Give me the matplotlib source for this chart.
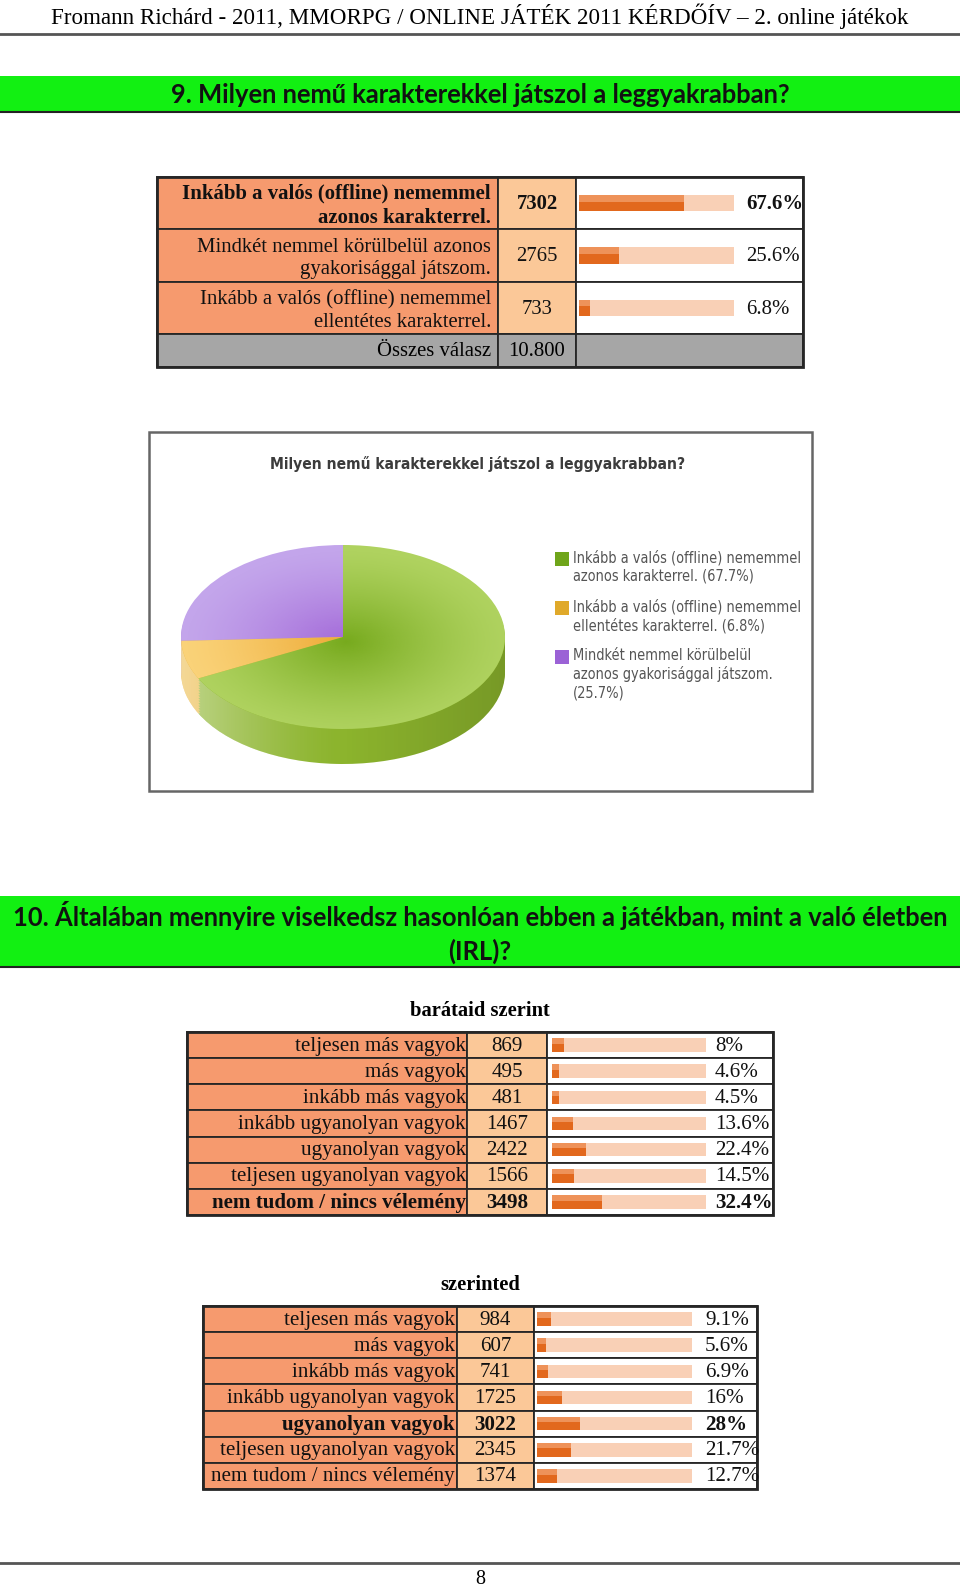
import matplotlib.pyplot as plt
import numpy as np
from matplotlib import font_manager as fm
from matplotlib.patches import Rectangle
from matplotlib.path import Path
from matplotlib.colors import to_rgb

W, H = 960, 1588

# ---- data ----
header_text = "Fromann Richárd - 2011, MMORPG / ONLINE JÁTÉK 2011 KÉRDŐÍV – 2. online játékok"
q9_title = "9. Milyen nemű karakterekkel játszol a leggyakrabban?"
q9_labels = ["Inkább a valós (offline) nememmel\nazonos karakterrel.",
             "Mindkét nemmel körülbelül azonos\ngyakorisággal játszom.",
             "Inkább a valós (offline) nememmel\nellentétes karakterrel."]
q9_counts = [7302, 2765, 733]
q9_pct = [67.6, 25.6, 6.8]
q9_total_label = "Összes válasz"
q9_total = "10.800"

pie_title = "Milyen nemű karakterekkel játszol a leggyakrabban?"
pie_labels = ["Inkább a valós (offline) nememmel\nazonos karakterrel. (67.7%)",
              "Inkább a valós (offline) nememmel\nellentétes karakterrel. (6.8%)",
              "Mindkét nemmel körülbelül\nazonos gyakorisággal játszom.\n(25.7%)"]
pie_pct = [67.7, 6.8, 25.7]

q10_title = "10. Általában mennyire viselkedsz hasonlóan ebben a játékban, mint a való életben\n(IRL)?"
q10_labels = ["teljesen más vagyok", "más vagyok", "inkább más vagyok",
              "inkább ugyanolyan vagyok", "ugyanolyan vagyok",
              "teljesen ugyanolyan vagyok", "nem tudom / nincs vélemény"]
friends_title = "barátaid szerint"
friends_counts = [869, 495, 481, 1467, 2422, 1566, 3498]
friends_pct = [8, 4.6, 4.5, 13.6, 22.4, 14.5, 32.4]
self_title = "szerinted"
self_counts = [984, 607, 741, 1725, 3022, 2345, 1374]
self_pct = [9.1, 5.6, 6.9, 16, 28, 21.7, 12.7]
page_no = "8"


def pick_narrow():
    # a condensed sans face if one is installed, else Roboto
    for fam, st in [("DejaVu Sans", "condensed"), ("Liberation Sans Narrow", "normal")]:
        try:
            f = fm.findfont(fm.FontProperties(family=fam, stretch=st), fallback_to_default=False)
            if "ondensed" in f or "Narrow" in f:
                return fam, st
        except Exception:
            pass
    return "Roboto", "normal"


# ---- styles ----
SERIF = "Liberation Serif"
SANS_B = "Lato"
NARROW, NARROW_ST = pick_narrow()
GREEN_BAND = "#12F012"
LABEL_BG = "#F69A6E"
COUNT_BG = "#FBC898"
GRAY_BG = "#A6A6A6"
TRACK = "#F9D0B6"
BAR_DARK = "#E2681D"
BAR_LIGHT = "#EE9259"
EDGE = "#262626"
PX = 0.72  # px -> pt at dpi 100

fig = plt.figure(figsize=(W / 100, H / 100), dpi=100)
fig.patch.set_facecolor("white")
ax = fig.add_axes([0, 0, 1, 1])
ax.set_xlim(0, W)
ax.set_ylim(H, 0)
ax.axis("off")


def inset(x0, y0, x1, y1):
    return fig.add_axes([x0 / W, 1 - y1 / H, (x1 - x0) / W, (y1 - y0) / H])


# ---- page header ----
ax.text(480, 16, header_text, ha="center", va="center", family=SERIF, fontsize=23 * PX)
ax.plot([0, W], [34, 34], color="#555555", lw=2)
ax.plot([0, W], [1563, 1563], color="#555555", lw=2)
ax.text(480, 1579, page_no, ha="center", va="center", family=SERIF, fontsize=20 * PX)


def green_band(y0, y1, text):
    ax.add_patch(Rectangle((0, y0), W, y1 - y0, facecolor=GREEN_BAND, edgecolor="none"))
    ax.plot([0, W], [y1, y1], color="#222222", lw=1.5)
    ax.text(480, (y0 + y1) / 2 + 1, text, ha="center", va="center", family=SANS_B,
            weight="bold", fontsize=25.5 * PX, linespacing=1.4, color="#111111")


green_band(76, 112, q9_title)
green_band(896, 967, q10_title)


def draw_table(labels, counts, pcts, xe, ye, track, pct_x, bold_rows, bar_frac, fs,
               pad=2, linespacing=1.15, dy=1):
    n = len(labels)
    for i in range(n):
        y0, y1 = ye[i], ye[i + 1]
        yc = (y0 + y1) / 2
        ax.add_patch(Rectangle((xe[0], y0), xe[1] - xe[0], y1 - y0, facecolor=LABEL_BG,
                               edgecolor=EDGE, lw=1.3))
        ax.add_patch(Rectangle((xe[1], y0), xe[2] - xe[1], y1 - y0, facecolor=COUNT_BG,
                               edgecolor=EDGE, lw=1.3))
        ax.add_patch(Rectangle((xe[2], y0), xe[3] - xe[2], y1 - y0, facecolor="white",
                               edgecolor=EDGE, lw=1.3))
        wt = "bold" if i in bold_rows else "normal"
        ax.text(xe[1] - pad, yc + dy, labels[i], ha="right", va="center", family=SERIF,
                fontsize=fs, weight=wt, linespacing=linespacing, color="#111111")
        ax.text((xe[1] + xe[2]) / 2, yc + 1, str(counts[i]), ha="center", va="center",
                family=SERIF, fontsize=fs, weight=wt, color="#111111")
        ax.text(pct_x, yc + 1, f"{pcts[i]:g}%", ha="left", va="center", family=SERIF,
                fontsize=fs, weight=wt, color="#111111")
    # bars through their own axes, 0..100 %
    bx = inset(track[0], ye[0], track[1], ye[n])
    rows = np.arange(n)
    bx.barh(rows, 100, height=bar_frac, color=TRACK, lw=0)
    bx.barh(rows, pcts, height=bar_frac, color=BAR_DARK, lw=0)
    bx.barh(rows - bar_frac * 0.3, pcts, height=bar_frac * 0.4, color=BAR_LIGHT, lw=0)
    bx.set_xlim(0, 100)
    bx.set_ylim(n - 0.5, -0.5)
    bx.axis("off")


# ---- table Q9 ----
t1_x = [157, 498, 576, 803]
t1_y = [177, 229, 282, 334]
draw_table(q9_labels, q9_counts, q9_pct, t1_x, t1_y, (579, 734), 746, [0], 0.31, 20.8 * PX,
           pad=7, linespacing=1.28, dy=3)
for a, b in [(0, 1), (1, 2), (2, 3)]:
    ax.add_patch(Rectangle((t1_x[a], 334), t1_x[b] - t1_x[a], 33, facecolor=GRAY_BG,
                           edgecolor=EDGE, lw=1.3))
ax.text(t1_x[1] - 7, 351, q9_total_label, ha="right", va="center", family=SERIF, fontsize=20.8 * PX)
ax.text((t1_x[1] + t1_x[2]) / 2, 351, q9_total, ha="center", va="center", family=SERIF, fontsize=20.8 * PX)
ax.add_patch(Rectangle((t1_x[0], 177), t1_x[3] - t1_x[0], 190, facecolor="none", edgecolor=EDGE, lw=2))

# ---- pie box ----
ax.add_patch(Rectangle((149, 432), 663, 359, facecolor="white", edgecolor="#666666", lw=1.8))
ax.text(478, 464, pie_title, ha="center", va="center", family=NARROW, stretch=NARROW_ST,
        weight="bold", fontsize=15.5 * PX, color="#3c3c3c")

top_light = ["#AFD25F", "#FAD278", "#C3A5EB"]
top_dark = ["#74A81A", "#EDA832", "#A267D8"]
side_col = ["#8CB42D", "#EBB843", "#A67FD8"]
legend_col = ["#6FA51A", "#E0A92A", "#9B62D6"]

# pie axes: radius 1 = 162 px horizontally, 92 px vertically, centre (343, 637)
cx, cy, rx, ry, depth_px = 343, 637, 162, 92, 35
px0, px1, py0, py1 = 170, 516, 540, 780
pax = inset(px0, py0, px1, py1)
order = [2, 1, 0]  # counter-clockwise from top: purple, yellow, green
vals = [pie_pct[k] for k in order]
depth = depth_px / ry
for d in np.linspace(depth, 0.02, 14):
    pax.pie(vals, startangle=90, counterclock=True, center=(0, -d),
            colors=[side_col[k] for k in order], wedgeprops=dict(linewidth=0))
# shading on the side band
t = np.linspace(np.pi, 2 * np.pi, 120)
verts = np.vstack([np.c_[np.cos(t), np.sin(t)], np.c_[np.cos(t[::-1]), np.sin(t[::-1]) - depth]])
band = Path(np.vstack([verts, verts[:1]]), closed=True)
gx = np.linspace(0, 1, 256)
shade = np.zeros((2, 256, 4))
shade[..., :3] = np.where(gx[:, None] < 0.5, 1.0, 0.0)
shade[..., 3] = np.where(gx < 0.5, 0.45 * (1 - gx / 0.5) ** 1.4, 0.15 * (gx - 0.5) / 0.5)
im = pax.imshow(shade, extent=(-1, 1, -1 - depth, 0.2), aspect="auto", zorder=3)
im.set_clip_path(band, transform=pax.transData)

wedges, _ = pax.pie(vals, startangle=90, counterclock=True, center=(0, 0),
                    colors=[top_light[k] for k in order], wedgeprops=dict(linewidth=0))
for w in wedges:
    w.set_zorder(4)
gg = np.linspace(-1, 1, 240)
GX, GY = np.meshgrid(gg, gg)
R = np.sqrt((GX - 0.02) ** 2 + (GY - 0.05) ** 2)
for w, k in zip(wedges, order):
    img = np.zeros((240, 240, 4))
    img[..., :3] = to_rgb(top_dark[k])
    img[..., 3] = np.clip(0.95 * (1 - R) ** 1.3, 0, 1)
    gi = pax.imshow(img, extent=(-1, 1, -1, 1), aspect="auto", zorder=5)
    gi.set_clip_path(w)
pax.set_aspect("auto")
pax.set_xlim((px0 - cx) / rx, (px1 - cx) / rx)
pax.set_ylim(-(py1 - cy) / ry, (cy - py0) / ry)
pax.axis("off")

# legend
leg_y = [553, 602, 651]
for k in range(3):
    ax.add_patch(Rectangle((555, leg_y[k] - 1), 14, 14, facecolor=legend_col[k], edgecolor="none"))
    ax.text(573, leg_y[k] - 3, pie_labels[k], ha="left", va="top", family=NARROW,
            stretch=NARROW_ST, fontsize=14.5 * PX, color="#555555", linespacing=1.25)

# ---- Q10 tables ----
ax.text(480, 1011, friends_title, ha="center", va="center", family=SERIF, weight="bold", fontsize=20.5 * PX)
t2_y = list(np.linspace(1032, 1215, 8))
draw_table(q10_labels, friends_counts, friends_pct, [187, 467, 547, 773], t2_y,
           (552, 706), 715, [6], 0.52, 21 * PX, pad=1)
ax.add_patch(Rectangle((187, 1032), 586, 183, facecolor="none", edgecolor=EDGE, lw=2))

ax.text(480, 1285, self_title, ha="center", va="center", family=SERIF, weight="bold", fontsize=20.5 * PX)
t3_y = list(np.linspace(1306, 1489, 8))
draw_table(q10_labels, self_counts, self_pct, [203, 457, 534, 757], t3_y,
           (537, 692), 705, [4], 0.52, 21 * PX, pad=2)
ax.add_patch(Rectangle((203, 1306), 554, 183, facecolor="none", edgecolor=EDGE, lw=2))

fig.savefig("out.png", dpi=100)
